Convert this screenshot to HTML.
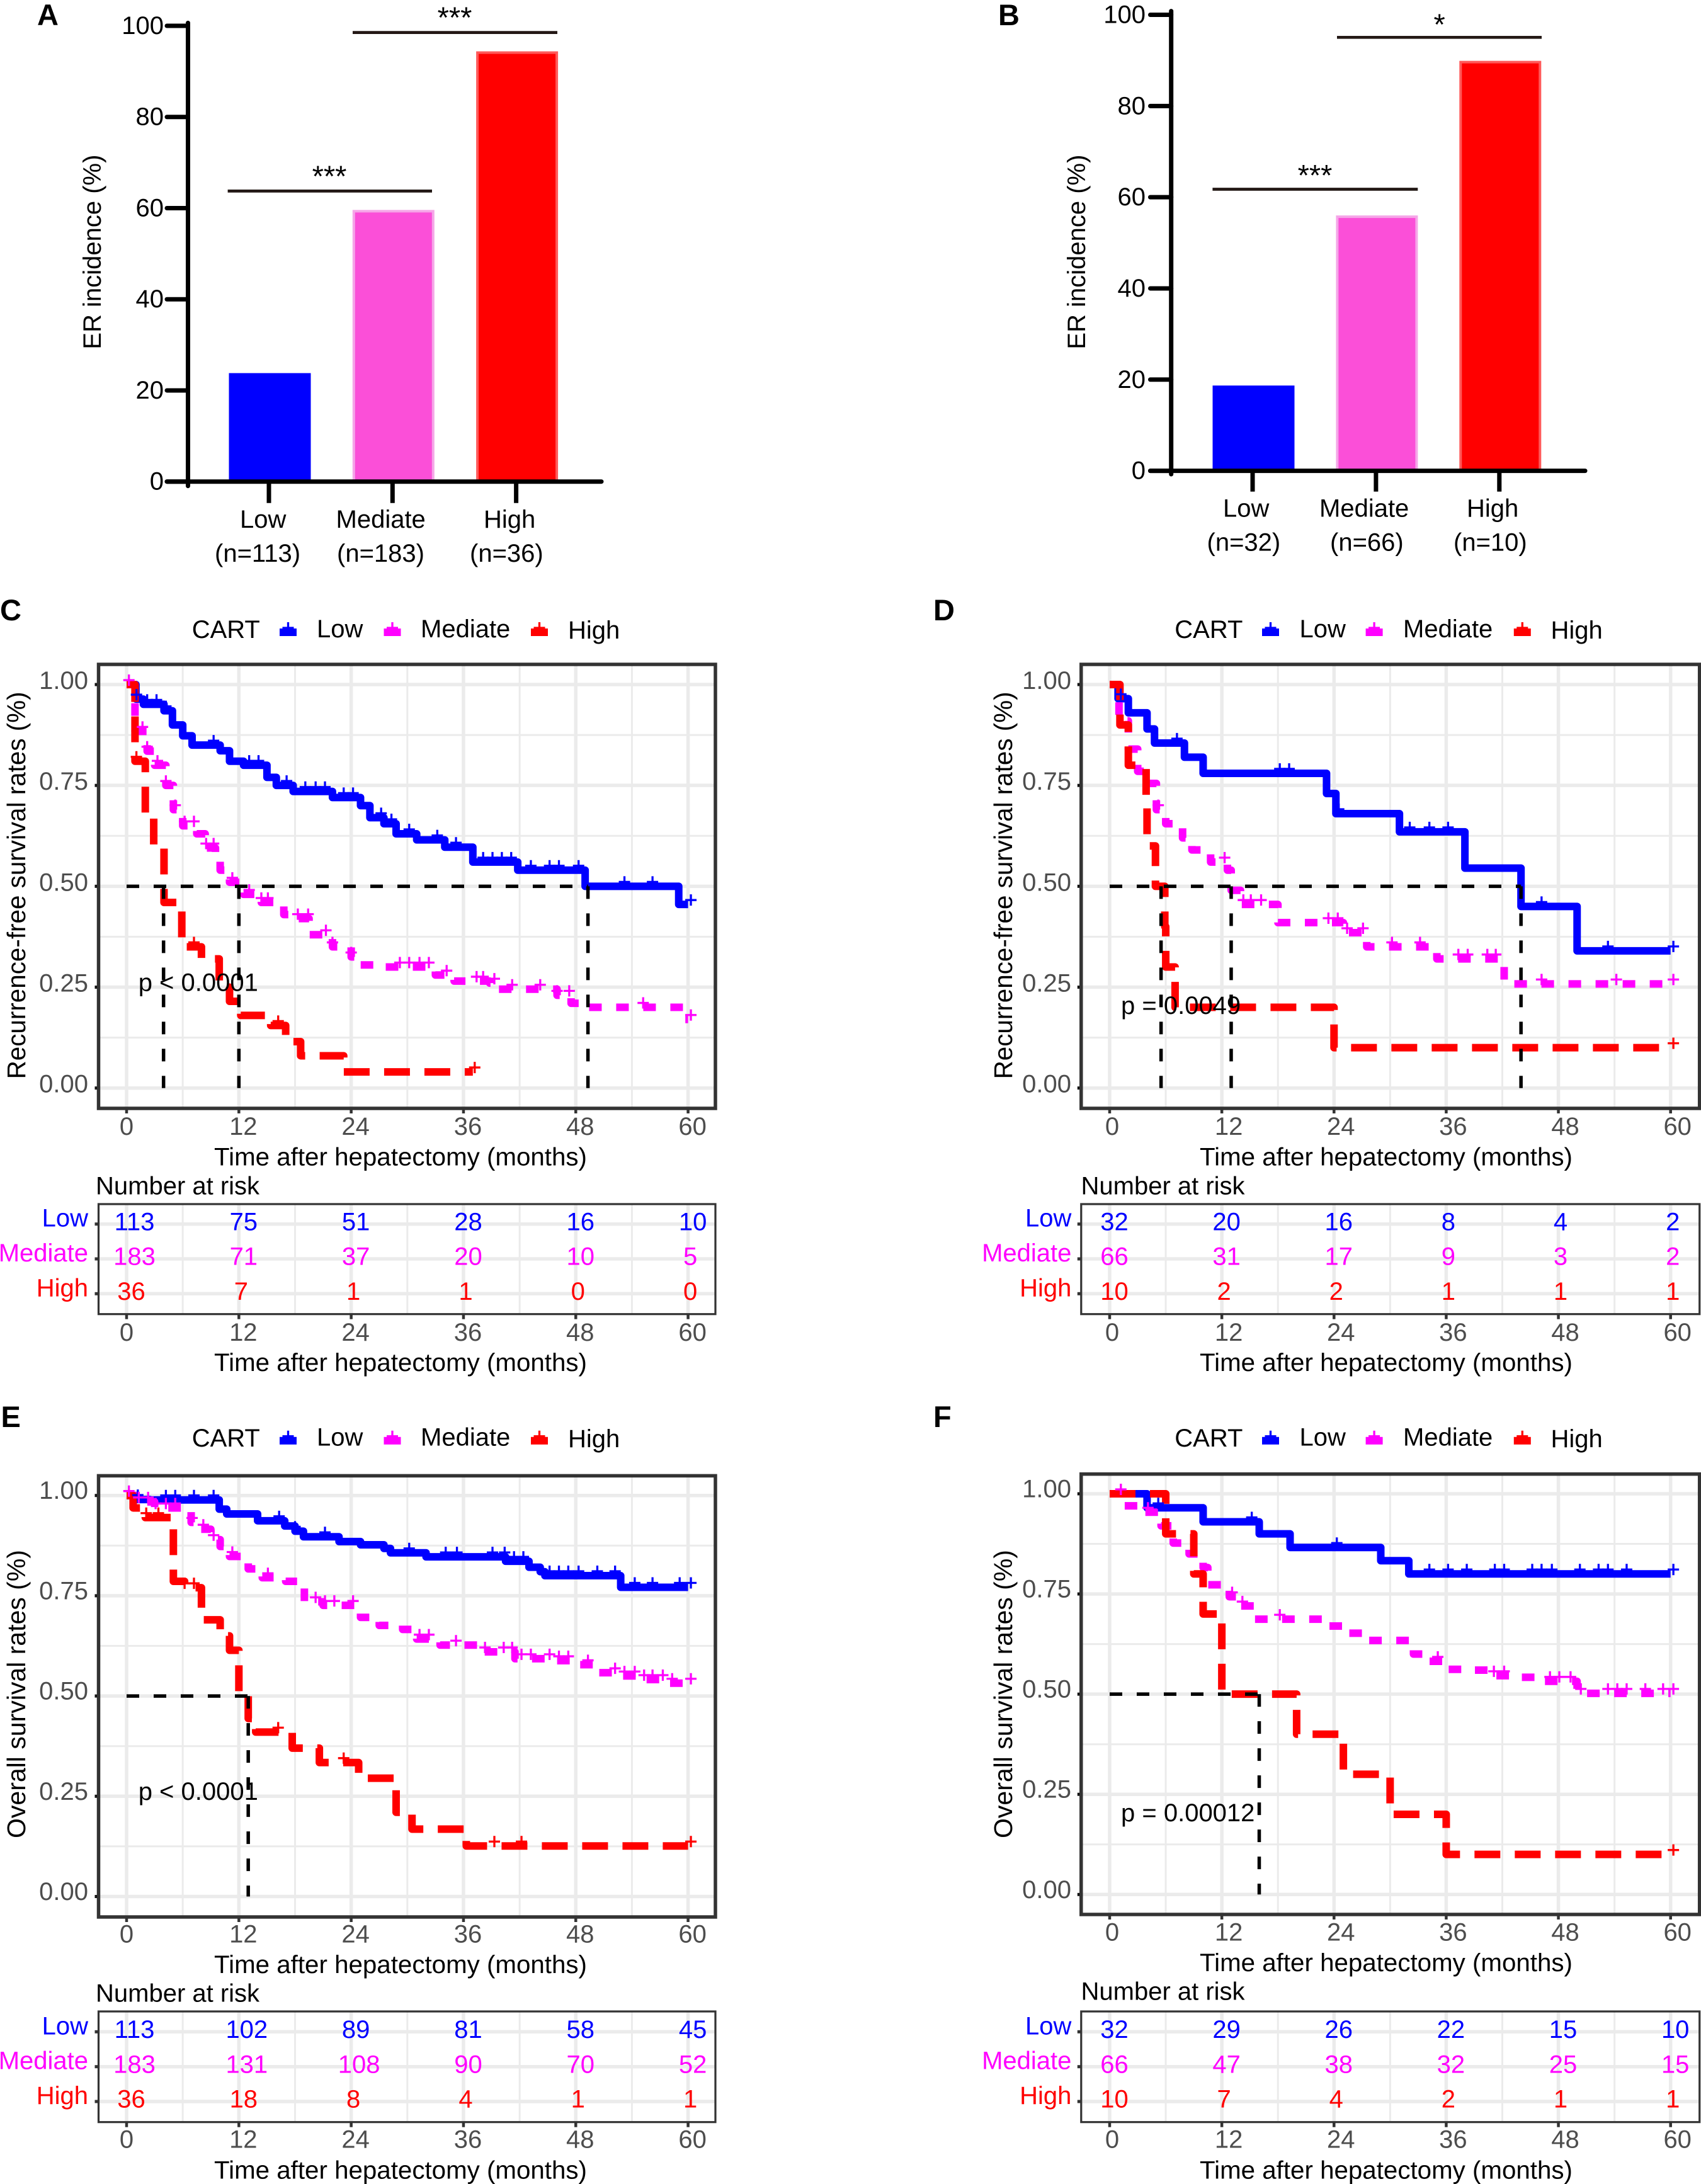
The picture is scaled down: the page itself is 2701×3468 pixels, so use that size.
<!DOCTYPE html>
<html lang="en">
<head>
<meta charset="utf-8">
<title>CART risk groups: ER incidence and survival curves</title>
<style>
html,body{margin:0;padding:0;background:#fff;}
svg{display:block;}
text{font-family:"Liberation Sans",Arial,sans-serif;font-size:40px;fill:#000;}
.letter{font-weight:bold;font-size:47px;}
.star{font-size:47px;}
.wide{font-size:40.3px;}
.ytitle{font-size:40.4px;}
.ytitle2{font-size:41px;}
.low{fill:#0000ff;}
.mediate{fill:#ff00ff;}
.high{fill:#ff0000;}
.end{text-anchor:end;}
</style>
</head>
<body>
<svg id="figure" xmlns="http://www.w3.org/2000/svg" width="2701" height="3468" viewBox="0 0 2701 3468">
<rect x="0" y="0" width="2701" height="3468" fill="#fff"/>
<g id="marks"></g>

<g>
<text class="letter" x="59" y="40">A</text>
<text transform="translate(160 554.6) rotate(-90)">ER incidence (%)</text>
<text x="381" y="838">Low</text>
<text x="533.5" y="838">Mediate</text>
<text x="768" y="838">High</text>
<text x="341" y="892">(n=113)</text>
<text x="535" y="892">(n=183)</text>
<text x="746" y="892">(n=36)</text>
<line x1="361.6" x2="686" y1="303.4" y2="303.4" stroke="#231815" stroke-width="4.7"/>
<line x1="560" x2="885" y1="51.6" y2="51.6" stroke="#231815" stroke-width="4.7"/>
<text class="star" x="523" y="296" text-anchor="middle">***</text>
<text class="star" x="722" y="44" text-anchor="middle">***</text>
</g>

<g>
<text class="letter" x="1585" y="40">B</text>
<text transform="translate(1723 554.6) rotate(-90)">ER incidence (%)</text>
<text x="1942" y="820.4">Low</text>
<text x="2095" y="820.4">Mediate</text>
<text x="2329" y="820.4">High</text>
<text x="1916.5" y="874.4">(n=32)</text>
<text x="2112" y="874.4">(n=66)</text>
<text x="2308" y="874.4">(n=10)</text>
<line x1="1925.4" x2="2251.3" y1="300.5" y2="300.5" stroke="#231815" stroke-width="4.7"/>
<line x1="2123" x2="2448" y1="59.3" y2="59.3" stroke="#231815" stroke-width="4.7"/>
<text class="star" x="2088" y="294.5" text-anchor="middle">***</text>
<text class="star" x="2285.7" y="55" text-anchor="middle">*</text>
</g>

<g>
<text class="letter" x="0" y="985">C</text>
<text x="304.7" y="1013">CART</text>
<text x="503" y="1012">Low</text>
<text x="668" y="1012">Mediate</text>
<text x="902" y="1014">High</text>
<text class="ytitle" transform="translate(40 1713.4) rotate(-90)">Recurrence-free survival rates (%)</text>
<text x="219.7" y="1573.6">p &lt; 0.0001</text>
<text class="wide" x="340" y="1850.3">Time after hepatectomy (months)</text>
<text x="152" y="1896.7">Number at risk</text>
<text class="low end" x="140" y="1947.7">Low</text>
<text class="mediate end" x="140" y="2003">Mediate</text>
<text class="high end" x="140" y="2058.3">High</text>
<text class="wide" x="340" y="2177">Time after hepatectomy (months)</text>
</g>

<g>
<text class="letter" x="1482" y="985">D</text>
<text x="1865.3" y="1013">CART</text>
<text x="2063.5" y="1012">Low</text>
<text x="2228" y="1012">Mediate</text>
<text x="2462.5" y="1014">High</text>
<text class="ytitle" transform="translate(1607 1713.4) rotate(-90)">Recurrence-free survival rates (%)</text>
<text x="1780" y="1610">p = 0.0049</text>
<text class="wide" x="1905" y="1850.3">Time after hepatectomy (months)</text>
<text x="1716.5" y="1896.7">Number at risk</text>
<text class="low end" x="1701.4" y="1947.7">Low</text>
<text class="mediate end" x="1701.4" y="2003">Mediate</text>
<text class="high end" x="1701.4" y="2058.3">High</text>
<text class="wide" x="1905" y="2177">Time after hepatectomy (months)</text>
</g>

<g>
<text class="letter" x="1.5" y="2266">E</text>
<text x="304.7" y="2296.8">CART</text>
<text x="503" y="2295.7">Low</text>
<text x="668" y="2295.7">Mediate</text>
<text x="902" y="2298">High</text>
<text class="ytitle2" transform="translate(40 2919) rotate(-90)">Overall survival rates (%)</text>
<text x="219.7" y="2858">p &lt; 0.0001</text>
<text class="wide" x="340" y="3133">Time after hepatectomy (months)</text>
<text x="152" y="3178.7">Number at risk</text>
<text class="low end" x="140" y="3230.3">Low</text>
<text class="mediate end" x="140" y="3285.7">Mediate</text>
<text class="high end" x="140" y="3341">High</text>
<text class="wide" x="340" y="3459.3">Time after hepatectomy (months)</text>
</g>

<g>
<text class="letter" x="1482" y="2266">F</text>
<text x="1865.3" y="2296.8">CART</text>
<text x="2063.5" y="2295.7">Low</text>
<text x="2228" y="2295.7">Mediate</text>
<text x="2462.5" y="2298">High</text>
<text class="ytitle2" transform="translate(1607 2919) rotate(-90)">Overall survival rates (%)</text>
<text x="1780" y="2892">p = 0.00012</text>
<text class="wide" x="1905" y="3130">Time after hepatectomy (months)</text>
<text x="1716.5" y="3175.3">Number at risk</text>
<text class="low end" x="1701.4" y="3230.3">Low</text>
<text class="mediate end" x="1701.4" y="3285.7">Mediate</text>
<text class="high end" x="1701.4" y="3341">High</text>
<text class="wide" x="1905" y="3459.3">Time after hepatectomy (months)</text>
</g>
</svg>

<script>
/* ---------- shared tick labels ---------- */
const incidenceTicks = [0, 20, 40, 60, 80, 100];
const monthTicks = [0, 12, 24, 36, 48, 60];
const monthMinorTicks = [6, 18, 30, 42, 54];
const survivalTicks = [0, 0.25, 0.5, 0.75, 1];
const survivalMinorTicks = [0.125, 0.375, 0.625, 0.875];
const groupNames = ['low', 'mediate', 'high'];

/* ---------- bar panels ---------- */
const panelAIncidence = [23.8, 59.6, 94.4];
const panelBIncidence = [18.7, 56, 89.9];

/* ---------- panel C ---------- */
const cLowTimes = [0, 1, 1.8, 4, 4.9, 6, 7, 10, 11, 12.5, 15, 16, 17.8, 22, 25, 26, 27.5, 28.8, 31, 34, 37, 41.8, 49, 59, 60];
const cLowSurv = [1, .964, .951, .935, .90, .873, .85, .836, .81, .80, .77, .75, .735, .72, .70, .67, .655, .63, .615, .597, .56, .54, .50, .455, .455];
const cLowCensor = [1.06, 2.2, 3.2, 4.2, 9.3, 13.1, 14.1, 17.1, 19.1, 20.2, 21.2, 23.2, 24.2, 27.2, 28.3, 30.2, 33.2, 35.2, 38.1, 39.1, 40.1, 41.1, 43.2, 45.2, 46.2, 48.3, 53.2, 56.2, 60.3];
const cMediateTimes = [0, .9, 2.2, 3, 4.2, 5, 6, 7.5, 8.4, 9.5, 10, 11, 12.5, 14.4, 16.8, 18, 19.5, 22, 24, 25, 27.5, 33, 35, 38.8, 39.5, 46, 47.5, 48.5, 59.6, 60];
const cMediateSurv = [1, .884, .835, .80, .75, .69, .65, .63, .595, .575, .54, .51, .48, .46, .43, .42, .38, .35, .325, .305, .30, .28, .265, .26, .245, .23, .21, .20, .17, .17];
const cMediateCensor = [.25, 1.7, 2.2, 3.3, 4.2, 5.2, 6.2, 7.2, 8.5, 9.3, 11.3, 13.1, 14.4, 15.1, 18.3, 19.4, 21.3, 22, 24, 29.2, 30.2, 31.3, 32.3, 34.2, 37.4, 38.1, 39.3, 41.2, 44.2, 46, 47.3, 55.2, 60.3];
const cHighTimes = [0, .9, 2, 2.9, 4, 5.9, 8, 9.9, 11, 12.2, 15.4, 17, 18.6, 23.2, 37];
const cHighSurv = [1, .81, .68, .60, .46, .35, .32, .25, .215, .18, .155, .115, .08, .04, .04];
const cHighCensor = [1.05, 7.2, 16.2, 37.2];
const cMedianTimes = [3.95, 12, 49.3];
const cRiskLow = [113, 75, 51, 28, 16, 10];
const cRiskMediate = [183, 71, 37, 20, 10, 5];
const cRiskHigh = [36, 7, 1, 1, 0, 0];

/* ---------- panel D ---------- */
const dLowTimes = [0, .9, 2, 4, 4.8, 8, 10, 23.2, 24.2, 31, 38, 44, 50, 60];
const dLowSurv = [1, .965, .93, .89, .855, .82, .78, .73, .68, .635, .545, .45, .34, .34];
const dLowCensor = [1.2, 7.2, 18.2, 19.2, 24.5, 32.1, 34.2, 36.2, 46.2, 53.3, 60.3];
const dMediateTimes = [0, 1, 2, 3, 4, 5, 6, 7.8, 8.8, 10.8, 12.6, 13, 14, 18, 25, 27.5, 35, 42.2, 60];
const dMediateSurv = [1, .91, .84, .785, .755, .69, .655, .62, .59, .56, .54, .49, .455, .41, .385, .35, .32, .258, .258];
const dMediateCensor = [5.2, 12.3, 14.3, 15.1, 16.2, 23.4, 24.4, 25.4, 27.1, 30.2, 33.2, 37.3, 38.3, 40.4, 41.3, 46.2, 54.2, 60.3];
const dHighTimes = [0, 1.1, 2, 3.9, 4, 4.9, 5.9, 6, 7, 24, 60];
const dHighSurv = [1, .9, .8, .7, .6, .5, .4, .3, .2, .1, .1];
const dHighCensor = [60.3];
const dMedianTimes = [5.5, 13, 44];
const dRiskLow = [32, 20, 16, 8, 4, 2];
const dRiskMediate = [66, 31, 17, 9, 3, 2];
const dRiskHigh = [10, 2, 2, 1, 1, 1];

/* ---------- panel E ---------- */
const eLowTimes = [0, 1, 2.5, 9.9, 10.7, 14, 16.9, 18, 18.9, 22.7, 25, 27.5, 28.2, 32, 40.5, 43, 44.2, 44.7, 52.8, 60];
const eLowSurv = [1, .99, .989, .966, .954, .937, .924, .911, .897, .885, .877, .868, .857, .847, .836, .821, .81, .80, .771, .771];
const eLowCensor = [1.2, 4.2, 5.2, 7.2, 9.3, 16.3, 18, 21.2, 30.2, 34.1, 35.3, 39.1, 40.4, 41.4, 42.4, 45.2, 46.2, 47.2, 48.3, 50.3, 52.2, 54.3, 56.2, 59.1, 60.3];
const eMediateTimes = [0, 1, 3, 6.9, 7.5, 9, 10, 11, 13, 14.5, 17, 19, 21, 25, 27, 29.5, 31, 33.5, 38, 41.5, 46, 48, 50, 52.5, 55, 58, 60];
const eMediateSurv = [1, .984, .969, .933, .916, .89, .873, .848, .817, .795, .786, .735, .726, .696, .676, .666, .642, .627, .61, .593, .588, .578, .558, .55, .541, .532, .532];
const eMediateCensor = [.25, 1.3, 2.3, 3.1, 4.2, 5.2, 7, 8.2, 9.3, 11.3, 15.1, 20.2, 21.2, 22.2, 24.2, 31.3, 32.3, 35.2, 38.3, 40.3, 41.2, 42.2, 43.2, 45.2, 46.2, 47.2, 49.3, 52.2, 53.2, 54.3, 55.3, 56.2, 57.3, 58.3, 60.3];
const eHighTimes = [0, .7, 2, 5, 6.2, 8, 10, 11, 12, 13, 13.8, 17.7, 20.6, 24.8, 28.8, 30.5, 36.3, 60];
const eHighSurv = [1, .969, .945, .786, .77, .69, .65, .614, .5, .444, .41, .37, .334, .295, .21, .168, .126, .126];
const eHighCensor = [2.1, 3.4, 6.2, 7.2, 16.2, 23.2, 39.3, 42.2, 60.3];
const eMedianTimes = [13];
const eRiskLow = [113, 102, 89, 81, 58, 45];
const eRiskMediate = [183, 131, 108, 90, 70, 52];
const eRiskHigh = [36, 18, 8, 4, 1, 1];

/* ---------- panel F ---------- */
const fLowTimes = [0, 4, 10, 16, 19.3, 29, 32, 60];
const fLowSurv = [1, .965, .93, .90, .866, .833, .80, .80];
const fLowCensor = [5.2, 15.2, 24.3, 34.2, 36.2, 38.2, 41.2, 42.2, 45.2, 46.2, 47.3, 50.3, 52.3, 53.3, 55.3, 60.3];
const fMediateTimes = [0, 1.5, 3.3, 5.5, 6.8, 8.5, 10, 10.5, 12.8, 14, 15.5, 23, 25.2, 27.4, 32.5, 34, 36.2, 39, 41, 44, 46, 50, 60];
const fMediateSurv = [1, .97, .954, .92, .877, .85, .816, .773, .743, .72, .687, .67, .652, .634, .60, .582, .562, .56, .546, .542, .532, .502, .502];
const fMediateCensor = [1.2, 4.1, 13.1, 14.2, 18.2, 35.1, 41.1, 42.2, 47.1, 48.1, 49.3, 50.4, 53.3, 54.3, 55.3, 57.3, 59.2, 60.3];
const fHighTimes = [0, 6, 9, 10, 12, 20, 25, 30, 36, 60];
const fHighSurv = [1, .9, .8, .7, .5, .4, .3, .2, .1, .1];
const fHighCensor = [60.3];
const fMedianTimes = [16];
const fRiskLow = [32, 29, 26, 22, 15, 10];
const fRiskMediate = [66, 47, 38, 32, 25, 15];
const fRiskHigh = [10, 7, 4, 2, 1, 1];

/* ---------- drawing ---------- */
const NS = 'http://www.w3.org/2000/svg';
const marks = document.getElementById('marks');
const seriesStyle = {
  low: { color: '#0000ff', dash: null },
  mediate: { color: '#ff00ff', dash: '20 23' },
  high: { color: '#ff0000', dash: '41 23' }
};

function make(tag, parent, attrs) {
  const el = document.createElementNS(NS, tag);
  Object.keys(attrs).forEach(function (k) { el.setAttribute(k, attrs[k]); });
  parent.appendChild(el);
  return el;
}

function drawBarPanel(p) {
  const g = make('g', marks, {});
  
  
  const yOf = function (v) { return p.y0 + (v / 100) * (p.y100 - p.y0); };
  const xOf = function (i) { return p.tick0 + i * p.tickStep; };

  p.values.forEach(function (v, i) {
    const st = p.barStyles[i];
    const top = yOf(v);
    const cx = xOf(i) + 1.5;
    const bar = make('rect', g, { x: cx - 63, y: top + 2, width: 126, height: p.y0 - top - 2, fill: st.fill, stroke: st.edge, 'stroke-width': 4 });
    
    
    const tick = make('line', g, { x1: xOf(i), x2: xOf(i), y1: p.y0, y2: p.y0 + p.xTickLen, stroke: '#000', 'stroke-width': 7 });
    
    
  });

  const yAxis = make('line', g, { x1: p.axisX, x2: p.axisX, y1: p.axisTop, y2: p.axisBottom, stroke: '#000', 'stroke-width': 7, 'stroke-linecap': 'round' });
  
  
  const xAxis = make('line', g, { x1: p.tickLeft, x2: p.axisRight, y1: p.y0, y2: p.y0, stroke: '#000', 'stroke-width': 7, 'stroke-linecap': 'round' });
  
  

  incidenceTicks.forEach(function (v) {
    const t = make('line', g, { x1: p.tickLeft, x2: p.axisX, y1: yOf(v), y2: yOf(v), stroke: '#000', 'stroke-width': 7, 'stroke-linecap': 'round' });
    
    
    const lab = make('text', g, { x: p.labelRight, y: yOf(v) + 13, 'text-anchor': 'end' });
    lab.textContent = String(v);
    
    
  });
}

function stepValue(times, surv, t) {
  let s = surv[0];
  for (let i = 0; i < times.length; i++) {
    if (times[i] <= t) { s = surv[i]; }
  }
  return s;
}

function drawGrid(g, p, top, bottom, yList) {
  monthMinorTicks.forEach(function (m) {
    const x = p.x0 + (m / 60) * (p.x60 - p.x0);
    const l = make('line', g, { x1: x, x2: x, y1: top, y2: bottom, stroke: '#ebebeb', 'stroke-width': 3 });
    
    
  });
  monthTicks.forEach(function (m) {
    const x = p.x0 + (m / 60) * (p.x60 - p.x0);
    const l = make('line', g, { x1: x, x2: x, y1: top, y2: bottom, stroke: '#ebebeb', 'stroke-width': 5.5 });
    
    
  });
  yList.forEach(function (item) {
    const l = make('line', g, { x1: p.left, x2: p.right, y1: item.y, y2: item.y, stroke: '#ebebeb', 'stroke-width': item.w });
    
    
  });
}

function drawMonthAxis(g, p, bottom, baseline) {
  monthTicks.forEach(function (m) {
    const x = p.x0 + (m / 60) * (p.x60 - p.x0);
    const t = make('line', g, { x1: x, x2: x, y1: bottom, y2: bottom + 8, stroke: '#333', 'stroke-width': 4.5 });
    
    
    const lab = make('text', g, { x: x + (m === 0 ? p.zeroShift : p.labelShift), y: baseline, 'text-anchor': 'middle', style: 'fill:#4d4d4d' });
    lab.textContent = String(m);
    
    
  });
}

function censorPath(x, y) {
  return 'M' + (x - 9) + ' ' + y + 'H' + (x + 9) + 'M' + x + ' ' + (y - 9) + 'V' + (y + 9);
}

function drawSurvivalPanel(p) {
  const g = make('g', marks, {});
  
  
  const xOf = function (t) { return p.x0 + (t / 60) * (p.x60 - p.x0); };
  const yOf = function (s) { return p.yZero + s * (p.yOne - p.yZero); };

  const gridY = survivalMinorTicks.map(function (s) { return { y: yOf(s), w: 3 }; })
    .concat(survivalTicks.map(function (s) { return { y: yOf(s), w: 5.5 }; }));
  drawGrid(g, p, p.top, p.bottom, gridY);
  drawMonthAxis(g, p, p.bottom, p.tickBaseline);

  survivalTicks.forEach(function (s) {
    const t = make('line', g, { x1: p.left - 6, x2: p.left, y1: yOf(s), y2: yOf(s), stroke: '#111', 'stroke-width': 5 });
    
    
    const lab = make('text', g, { x: p.labelRight, y: yOf(s) + p.yLabelShift, 'text-anchor': 'end', style: 'fill:#4d4d4d' });
    lab.textContent = s.toFixed(2);
    
    
  });

  p.series.forEach(function (sr, idx) {
    const name = groupNames[idx];
    const st = seriesStyle[name];
    let d = 'M' + xOf(sr.times[0]) + ' ' + yOf(sr.surv[0]);
    for (let i = 1; i < sr.times.length; i++) {
      d += 'H' + xOf(sr.times[i]) + 'V' + yOf(sr.surv[i]);
    }
    const attrs = { d: d, fill: 'none', stroke: st.color, 'stroke-width': 12, 'stroke-linejoin': 'round' };
    if (st.dash) { attrs['stroke-dasharray'] = st.dash; }
    const curve = make('path', g, attrs);
    
    
  });

  p.series.forEach(function (sr, idx) {
    const name = groupNames[idx];
    sr.censor.forEach(function (t) {
      const mark = make('path', g, { d: censorPath(xOf(t), yOf(stepValue(sr.times, sr.surv, t)) - 7), fill: 'none', stroke: seriesStyle[name].color, 'stroke-width': 3.3 });
      
      
    });
  });

  const blackDash = { fill: 'none', stroke: '#000', 'stroke-width': 5.5, 'stroke-dasharray': '20 23' };
  const lastMedian = Math.max.apply(null, p.medians);
  const hAttrs = Object.assign({ d: 'M' + xOf(0) + ' ' + yOf(0.5) + 'H' + xOf(lastMedian) }, blackDash);
  const hLine = make('path', g, hAttrs);
  
  
  p.medians.forEach(function (t) {
    const vAttrs = Object.assign({ d: 'M' + xOf(t) + ' ' + yOf(0.5) + 'V' + yOf(0) }, blackDash);
    const vLine = make('path', g, vAttrs);
    
    
  });

  const frame = make('rect', g, { x: p.left, y: p.top, width: p.right - p.left, height: p.bottom - p.top, fill: 'none', stroke: '#333', 'stroke-width': 5.5 });
  
  

  /* legend keys */
  groupNames.forEach(function (name, i) {
    const kx = p.keyX[i];
    const key = make('line', g, { x1: kx, x2: kx + 27, y1: p.keyY, y2: p.keyY, stroke: seriesStyle[name].color, 'stroke-width': 12 });
    
    
    const plus = make('path', g, { d: censorPath(kx + 13.5, p.keyY - 7), fill: 'none', stroke: seriesStyle[name].color, 'stroke-width': 3.3 });
    
    
  });

  /* risk table */
  const rowList = p.riskRows.map(function (y) { return { y: y, w: 5.5 }; });
  drawGrid(g, p, p.riskTop, p.riskBottom, rowList);
  drawMonthAxis(g, p, p.riskBottom, p.riskTickBaseline);
  const shift = [0, 3.5, 7.5, 12.5];
  p.risk.forEach(function (row, r) {
    const name = groupNames[r];
    const rowY = p.riskRows[r];
    const t = make('line', g, { x1: p.left - 6, x2: p.left, y1: rowY, y2: rowY, stroke: '#333', 'stroke-width': 5 });
    
    
    row.forEach(function (n, c) {
      const txt = String(n);
      const cell = make('text', g, { x: xOf(monthTicks[c]) + shift[txt.length], y: rowY + 9.6, 'text-anchor': 'middle', style: 'fill:' + seriesStyle[name].color });
      cell.textContent = txt;
      
      
    });
  });
  const riskFrame = make('rect', g, { x: p.left, y: p.riskTop, width: p.right - p.left, height: p.riskBottom - p.riskTop, fill: 'none', stroke: '#333', 'stroke-width': 3.2 });
  
  
}

drawBarPanel({
  id: 'a', values: panelAIncidence, y0: 764.7, y100: 41, axisX: 298.5, axisTop: 36.4, axisBottom: 771.7,
  tickLeft: 265, axisRight: 955, labelRight: 260, tick0: 427, tickStep: 196.3, xTickLen: 34,
  barStyles: [{ fill: '#0000ff', edge: '#0000ff' }, { fill: '#fb4fd8', edge: '#f5a6e8' }, { fill: '#ff0000', edge: '#ff5a5a' }]
});
drawBarPanel({
  id: 'b', values: panelBIncidence, y0: 747.6, y100: 23.5, axisX: 1859.7, axisTop: 17.6, axisBottom: 753,
  tickLeft: 1826.5, axisRight: 2517, labelRight: 1819, tick0: 1989, tickStep: 195.9, xTickLen: 33,
  barStyles: [{ fill: '#0000ff', edge: '#0000ff' }, { fill: '#fb4fd8', edge: '#f5a6e8' }, { fill: '#ff0000', edge: '#ff5a5a' }]
});

const leftColumn = { x0: 201, x60: 1092.6, left: 156.5, right: 1136, labelRight: 140, keyX: [444, 609.5, 843], zeroShift: 0, labelShift: 7 };
const rightColumn = { x0: 1762, x60: 2652.7, left: 1716.8, right: 2698.7, labelRight: 1701, keyX: [2004, 2168.6, 2403.8], zeroShift: 4, labelShift: 11 };
const upperRow = { top: 1055, bottom: 1760, yOne: 1087, yZero: 1727.7, tickBaseline: 1802, yLabelShift: 7, keyY: 1004,
  riskTop: 1912, riskBottom: 2086.7, riskRows: [1943.7, 1999, 2054.3], riskTickBaseline: 2129 };
const lowerRiskRow = { riskTop: 3194, riskBottom: 3369.7, riskRows: [3226.3, 3281.7, 3337], riskTickBaseline: 3410.7, yLabelShift: 5.5, keyY: 2287.7 };

drawSurvivalPanel(Object.assign({ id: 'c', medians: cMedianTimes, risk: [cRiskLow, cRiskMediate, cRiskHigh],
  series: [
    { times: cLowTimes, surv: cLowSurv, censor: cLowCensor },
    { times: cMediateTimes, surv: cMediateSurv, censor: cMediateCensor },
    { times: cHighTimes, surv: cHighSurv, censor: cHighCensor }
  ] }, leftColumn, upperRow));
drawSurvivalPanel(Object.assign({ id: 'd', medians: dMedianTimes, risk: [dRiskLow, dRiskMediate, dRiskHigh],
  series: [
    { times: dLowTimes, surv: dLowSurv, censor: dLowCensor },
    { times: dMediateTimes, surv: dMediateSurv, censor: dMediateCensor },
    { times: dHighTimes, surv: dHighSurv, censor: dHighCensor }
  ] }, rightColumn, upperRow));
drawSurvivalPanel(Object.assign({ id: 'e', medians: eMedianTimes, risk: [eRiskLow, eRiskMediate, eRiskHigh],
  top: 2343.4, bottom: 3044, yOne: 2374.7, yZero: 3011.5, tickBaseline: 3084.7,
  series: [
    { times: eLowTimes, surv: eLowSurv, censor: eLowCensor },
    { times: eMediateTimes, surv: eMediateSurv, censor: eMediateCensor },
    { times: eHighTimes, surv: eHighSurv, censor: eHighCensor }
  ] }, leftColumn, lowerRiskRow));
drawSurvivalPanel(Object.assign({ id: 'f', medians: fMedianTimes, risk: [fRiskLow, fRiskMediate, fRiskHigh],
  top: 2340.7, bottom: 3040, yOne: 2372, yZero: 3008.3, tickBaseline: 3081.3,
  series: [
    { times: fLowTimes, surv: fLowSurv, censor: fLowCensor },
    { times: fMediateTimes, surv: fMediateSurv, censor: fMediateCensor },
    { times: fHighTimes, surv: fHighSurv, censor: fHighCensor }
  ] }, rightColumn, lowerRiskRow));
</script>
</body>
</html>
